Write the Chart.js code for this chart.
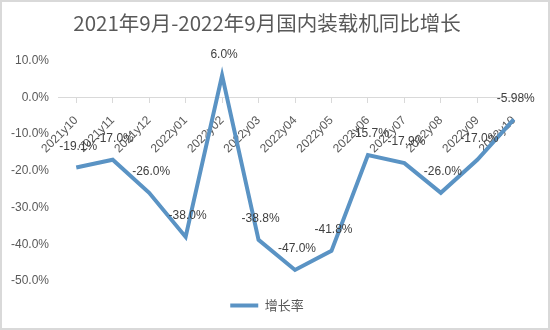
<!DOCTYPE html>
<html>
<head>
<meta charset="utf-8">
<script src="https://cdn.jsdelivr.net/npm/chart.js@4"></script>
<style>
  html, body { margin: 0; padding: 0; background: #fff; }
  #wrap { width: 550px; height: 330px; }
</style>
</head>
<body>
<div id="wrap"><canvas id="growthChart" width="550" height="330"></canvas></div>
<script>
const months = [
  "2021y10", "2021y11", "2021y12", "2022y01", "2022y02", "2022y03", "2022y04",
  "2022y05", "2022y06", "2022y07", "2022y08", "2022y09", "2022y10"
];
const growthRate = [-19.1, -17.0, -26.0, -38.0, 6.0, -38.8, -47.0, -41.8, -15.7, -17.9, -26.0, -17.0, -5.98];
const growthLabels = ["-19.1%", "-17.0%", "-26.0%", "-38.0%", "6.0%", "-38.8%", "-47.0%", "-41.8%", "-15.7%", "-17.9%", "-26.0%", "-17.0%", "-5.98%"];

const gray = "#595959";

// value labels above every point of the line
const pointLabels = {
  id: "pointLabels",
  afterDatasetsDraw(chart) {
    const ctx = chart.ctx;
    const meta = chart.getDatasetMeta(0);
    ctx.save();
    ctx.font = "12px 'Liberation Sans'";
    ctx.fillStyle = "#404040";
    ctx.textAlign = "center";
    ctx.textBaseline = "middle";
    meta.data.forEach((pt, i) => {
      ctx.fillText(growthLabels[i], pt.x + 2, pt.y - 21);
    });
    ctx.restore();
  }
};

// thin frame round the whole chart
const frame = {
  id: "frame",
  afterDraw(chart) {
    const ctx = chart.ctx;
    ctx.save();
    ctx.strokeStyle = "#d9d9d9";
    ctx.lineWidth = 2;
    ctx.strokeRect(1, 1, chart.width - 2, chart.height - 2);
    ctx.restore();
  }
};

const ctx = document.getElementById("growthChart").getContext("2d");
new Chart(ctx, {
  type: "line",
  data: {
    labels: months,
    datasets: [
      {
        label: "增长率",
        data: growthRate,
        borderColor: "#5a93c4",
        backgroundColor: "#5a93c4",
        borderWidth: 4,
        pointRadius: 0,
        tension: 0,
      },
    ],
  },
  options: {
    responsive: false,
    animation: false,
    layout: { padding: { left: 2, right: 18, top: 0, bottom: 8 } },
    scales: {
      x: {
        position: { y: 0 },
        offset: true,
        grid: {
          drawOnChartArea: false,
          drawTicks: true,
          tickLength: 5,
          color: "#d9d9d9",
        },
        border: { color: "#d9d9d9" },
        ticks: {
          color: gray,
          font: { family: "'Liberation Sans'", size: 12 },
          maxRotation: 45,
          minRotation: 45,
          autoSkip: false,
          padding: 11,
        },
      },
      y: {
        min: -50,
        max: 10,
        ticks: {
          stepSize: 10,
          color: gray,
          font: { family: "'Liberation Sans'", size: 12 },
          padding: 9,
          callback: (v) => v.toFixed(1) + "%",
        },
        grid: { display: false, drawTicks: false },
        border: { display: false },
      },
    },
    plugins: {
      title: {
        display: true,
        text: "2021年9月-2022年9月国内装载机同比增长",
        color: gray,
        font: { family: "'Noto Sans CJK SC'", size: 20.5, weight: "normal" },
        padding: { top: 11, bottom: 25 },
      },
      legend: {
        position: "bottom",
        labels: {
          color: gray,
          font: { family: "'Noto Sans CJK SC'", size: 13 },
          usePointStyle: true,
          pointStyle: "line",
          boxWidth: 28,
          boxHeight: 13,
          pointStyleWidth: 28,
          padding: 18,
        },
      },
      tooltip: { enabled: false },
    },
  },
  plugins: [pointLabels, frame],
});
</script>
</body>
</html>
